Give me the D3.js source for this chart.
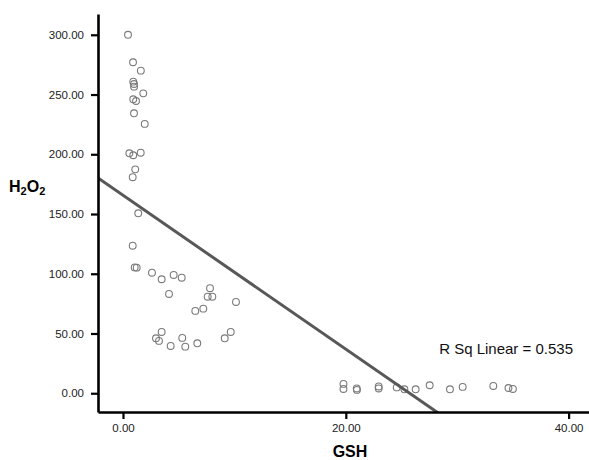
<!DOCTYPE html>
<html lang="en">
<head>
<meta charset="utf-8">
<script src="https://cdn.jsdelivr.net/npm/d3@7"></script>
<style>
  body { margin: 0; background: #fff; }
  text { font-family: "Liberation Sans", Arial, sans-serif; }
</style>
</head>
<body>
<script>
// GSH values (x) and H2O2 values (y)
const gsh = [0.45, 0.9, 1.6, 0.92, 0.99, 0.99, 1.82, 0.92, 1.17, 0.99, 1.95,
  0.57, 0.92, 1.59, 1.1, 0.87, 1.37, 0.87, 1.05, 1.23, 2.6, 3.47, 4.55, 5.27,
  4.13, 7.81, 7.6, 8.02, 10.14, 6.49, 7.21, 3.47, 2.96, 3.23, 4.28, 5.32, 5.59,
  6.67, 9.13, 9.67,
  19.79, 19.79, 20.98, 21.0, 22.95, 22.95, 24.57, 25.26, 26.27, 27.53, 29.35,
  30.49, 33.24, 34.6, 35.0];
const h2o2 = [300, 277, 270, 260.8, 258.8, 256.6, 251, 246, 244.6, 234.3, 225.4,
  200.8, 199.2, 201.3, 187.4, 180.8, 150.6, 123.5, 105.3, 105.1, 100.9, 95.4, 99,
  96.7, 83.1, 87.9, 80.8, 80.8, 76.4, 68.9, 70.8, 51.3, 46, 43.8, 39.6, 46.3, 39,
  41.8, 46, 51.3,
  7.8, 3.6, 4, 2.8, 5.7, 4, 4.9, 3.3, 3.3, 6.7, 3.3, 5.3, 6.1, 4.4, 3.6];

const xTicks = [0, 20, 40];
const yTicks = [0, 50, 100, 150, 200, 250, 300];

// linear fit shown on the chart
const fitIntercept = 165.7;
const fitSlope = -6.44;
const rSqLabel = "R Sq Linear = 0.535";

const width = 589, height = 460;
const margin = {left: 98, right: 589, top: 14, bottom: 412};

const svg = d3.select("body").append("svg")
  .attr("width", width)
  .attr("height", height);

const x = d3.scaleLinear().domain([-2.244, 41.83]).range([margin.left, margin.right]);
const y = d3.scaleLinear().domain([-15.7, 317.4]).range([margin.bottom, margin.top]);

svg.append("defs").append("clipPath").attr("id", "plot")
  .append("rect")
  .attr("x", margin.left).attr("y", margin.top)
  .attr("width", margin.right - margin.left).attr("height", margin.bottom - margin.top);

// points
const pts = gsh.map((g, i) => ({ g: g, h: h2o2[i] }));
svg.append("g").selectAll("circle")
  .data(pts)
  .enter()
  .append("circle")
  .attr("cx", d => x(d.g))
  .attr("cy", d => y(d.h))
  .attr("r", 3.4)
  .attr("fill", "none")
  .attr("stroke", "#7a7a7a")
  .attr("stroke-width", 1.1);

// fit line
const x0 = x.domain()[0], x1 = x.domain()[1];
svg.append("line")
  .attr("clip-path", "url(#plot)")
  .attr("x1", x(x0)).attr("y1", y(fitIntercept + fitSlope * x0))
  .attr("x2", x(x1)).attr("y2", y(fitIntercept + fitSlope * x1))
  .attr("stroke", "#585858")
  .attr("stroke-width", 3);

// axes
const xAxis = svg.append("g")
  .attr("transform", "translate(0," + margin.bottom + ")")
  .call(d3.axisBottom(x).tickValues(xTicks).tickFormat(d3.format(".2f"))
    .tickSizeInner(7).tickSizeOuter(0).tickPadding(5));
const yAxis = svg.append("g")
  .attr("transform", "translate(" + margin.left + ",0)")
  .call(d3.axisLeft(y).tickValues(yTicks).tickFormat(d3.format(".2f"))
    .tickSizeInner(7).tickSizeOuter(0).tickPadding(7));

[xAxis, yAxis].forEach(a => {
  a.select(".domain").attr("stroke", "#000").attr("stroke-width", 2.6);
  a.selectAll(".tick line").attr("stroke", "#000").attr("stroke-width", 2.2);
  a.selectAll(".tick text")
    .attr("fill", "#222")
    .style("font-family", "'Liberation Sans', Arial, sans-serif")
    .style("font-size", "11.5px");
});

// axis titles
svg.append("text")
  .attr("x", 350).attr("y", 457)
  .attr("text-anchor", "middle")
  .style("font-size", "16px")
  .style("font-weight", "bold")
  .text("GSH");

const yt = svg.append("text")
  .attr("x", 9).attr("y", 192)
  .style("font-size", "16px")
  .style("font-weight", "bold");
yt.append("tspan").text("H");
yt.append("tspan").attr("dy", 3).style("font-size", "11px").text("2");
yt.append("tspan").attr("dy", -3).text("O");
yt.append("tspan").attr("dy", 3).style("font-size", "11px").text("2");

// fit annotation
svg.append("text")
  .attr("x", 573).attr("y", 354)
  .attr("text-anchor", "end")
  .attr("fill", "#111")
  .style("font-size", "15px")
  .text(rSqLabel);
</script>
</body>
</html>
